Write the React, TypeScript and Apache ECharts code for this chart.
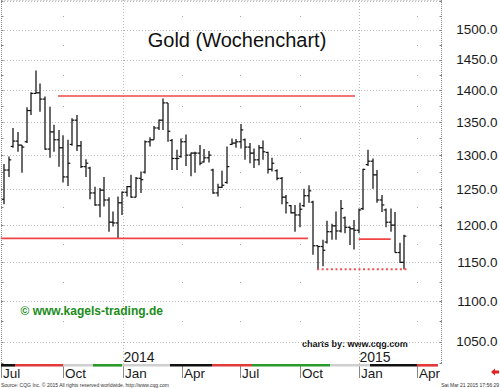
import React, { useEffect, useRef } from "react";
import * as echarts from "echarts";

// ---------- data (weekly OHLC, first bar = week of 2013-07-05) ----------
const opens = [
  1236, 1278, 1313, 1321, 1315, 1320, 1368, 1395, 1396, 1386,
  1309, 1335, 1323, 1311, 1268, 1316, 1353, 1314, 1283, 1281,
  1245, 1228, 1249, 1235, 1204, 1203, 1231, 1246, 1254, 1239,
  1266, 1275, 1320, 1323, 1341, 1353, 1380, 1322, 1295, 1298,
  1320, 1300, 1303, 1303, 1290, 1296, 1278, 1245, 1253, 1260,
  1316, 1318, 1320, 1323, 1312, 1303, 1293, 1311, 1304, 1279,
  1277, 1266, 1239, 1227, 1217, 1214, 1227, 1241, 1232, 1172,
  1171, 1177, 1191, 1199, 1192, 1210, 1197, 1195, 1193, 1223,
  1286, 1291, 1271, 1235, 1221, 1204, 1200, 1163, 1150,
];
const highs = [
  1287, 1298, 1341, 1335, 1315, 1373, 1397, 1432, 1411, 1390,
  1374, 1346, 1338, 1330, 1323, 1356, 1361, 1321, 1294, 1283,
  1254, 1252, 1268, 1239, 1219, 1240, 1247, 1255, 1271, 1268,
  1276, 1322, 1327, 1344, 1354, 1387, 1380, 1324, 1308, 1325,
  1331, 1304, 1305, 1315, 1309, 1306, 1280, 1258, 1277, 1313,
  1325, 1324, 1347, 1325, 1318, 1310, 1315, 1322, 1305, 1296,
  1279, 1268, 1242, 1228, 1228, 1231, 1251, 1256, 1234, 1172,
  1180, 1206, 1202, 1219, 1235, 1212, 1198, 1207, 1223, 1280,
  1308, 1295, 1278, 1242, 1223, 1223, 1218, 1176, 1187,
];
const lows = [
  1229, 1268, 1311, 1305, 1274, 1318, 1361, 1395, 1366, 1308,
  1296, 1305, 1283, 1260, 1255, 1314, 1306, 1281, 1268, 1236,
  1227, 1211, 1226, 1191, 1198, 1182, 1214, 1240, 1238, 1239,
  1245, 1273, 1313, 1323, 1338, 1338, 1320, 1278, 1278, 1296,
  1284, 1269, 1274, 1285, 1289, 1289, 1244, 1240, 1252, 1258,
  1315, 1311, 1310, 1293, 1288, 1281, 1285, 1293, 1273, 1276,
  1263, 1229, 1216, 1216, 1191, 1197, 1225, 1231, 1160, 1141,
  1145, 1175, 1180, 1180, 1190, 1189, 1173, 1167, 1189, 1221,
  1284, 1251, 1231, 1218, 1197, 1191, 1163, 1149, 1141,
];
const closes = [
  1278, 1293, 1321, 1315, 1312, 1368, 1395, 1396, 1386, 1309,
  1335, 1323, 1311, 1268, 1288, 1353, 1314, 1283, 1288, 1245,
  1228, 1249, 1235, 1204, 1203, 1231, 1246, 1254, 1239, 1266,
  1264, 1320, 1323, 1341, 1353, 1380, 1336, 1295, 1295, 1320,
  1300, 1303, 1303, 1288, 1296, 1300, 1245, 1253, 1256, 1283,
  1318, 1320, 1338, 1312, 1303, 1293, 1311, 1305, 1279, 1288,
  1266, 1239, 1231, 1217, 1214, 1222, 1241, 1248, 1172, 1171,
  1166, 1191, 1199, 1192, 1223, 1197, 1195, 1193, 1221, 1279,
  1291, 1271, 1235, 1228, 1204, 1200, 1163, 1150, 1185,
];

// price axis (log scale) tick values
const priceGridLevels = [1050, 1100, 1150, 1200, 1250, 1300, 1350, 1400, 1450, 1500, 1550];
const priceLabels = [1050, 1100, 1150, 1200, 1250, 1300, 1350, 1400, 1450, 1500];
const priceMidLevels = [1075, 1125, 1175, 1225, 1275, 1325, 1375, 1425, 1475, 1525];
const edgeTickLevels = [
  1025, 1050, 1075, 1100, 1125, 1150, 1175, 1200, 1225, 1250, 1275,
  1300, 1325, 1350, 1375, 1400, 1425, 1450, 1475, 1500, 1525, 1550,
];

// time axis (bar index units) quarter ticks & years
const quarterNames = ["Jul", "Oct", "Jan", "Apr", "Jul", "Oct", "Jan", "Apr"];
const quarterPos = [-0.6, 13.0, 26.2, 39.05, 51.9, 65.05, 78.1, 90.7];
const yearNames = ["2014", "2015"];
const yearPos = [26.2, 78.1];

// support / resistance lines (bar index from, to, price)
const levelFrom = [11.87, -0.66, 77.96, 68.8];
const levelTo = [77.14, 66.8, 84.99, 88.8];
const levelValue = [1391, 1182, 1181, 1141];
const levelDotted = [false, false, false, true];

// contract strip under the plot (bar index from, to, colour)
const stripFrom = [-0.66, 2.42, 12.97, 19.56, 25.93, 36.48, 45.71, 54.51, 71.65, 80.44, 90.77];
const stripTo = [2.42, 12.97, 19.56, 25.93, 36.48, 45.71, 54.51, 71.65, 80.44, 90.77, 95.38];
const stripColor = [
  "#111111", "#e03a3a", "#cfcfcf", "#2a9a2a", "#cfcfcf", "#111111",
  "#e03a3a", "#2a9a2a", "#cfcfcf", "#111111", "#e03a3a",
];

const X_MIN = -0.66;
const X_MAX = 96.26;
const Y_MIN = 1023.8;
const Y_MAX = 1552.3;

const FONT = '"Liberation Sans", Arial, Helvetica, sans-serif';

function txt(text: string, x: number, y: number, font: string, fill: string, align = "left", valign = "middle") {
  return {
    type: "text",
    x,
    y,
    silent: true,
    style: {
      text,
      font,
      fill,
      align,
      verticalAlign: valign,
      textAlign: align,
      textVerticalAlign: valign,
    },
  };
}

export default function App() {
  const ref = useRef<HTMLDivElement>(null);

  useEffect(() => {
    if (!ref.current) return;
    const chart = echarts.init(ref.current, undefined, { renderer: "svg" });

    const ohlcData = highs.map((h, i) => [i, opens[i], closes[i], lows[i], h]);

    const levelSeries = levelValue.map((v, k) => ({
      type: "line",
      z: 4,
      silent: true,
      symbol: "none",
      animation: false,
      data: [
        [levelFrom[k], v],
        [levelTo[k], v],
      ],
      lineStyle: {
        color: levelDotted[k] ? "#f05050" : "#f04444",
        width: levelDotted[k] ? 2 : 1.6,
        type: levelDotted[k] ? [2, 2.6] : "solid",
      },
    }));

    const option: any = {
      animation: false,
      backgroundColor: "#ffffff",
      grid: { left: 1, right: 58, top: 0, bottom: 24, show: false },
      xAxis: { type: "value", min: X_MIN, max: X_MAX, show: false },
      yAxis: { type: "log", logBase: 10, min: Y_MIN, max: Y_MAX, show: false },
      graphic: [
        txt("Gold (Wochenchart)", 237, 40, `normal 20px ${FONT}`, "#111111", "center"),
        txt("\u00a9 www.kagels-trading.de", 20.5, 311, `bold 12px ${FONT}`, "#1a8c1a"),
        txt("charts by: www.cqg.com", 302, 344, `bold 9px ${FONT}`, "#111111"),
        txt(
          "Source: CQG Inc. \u00a9 2015 All rights reserved worldwide. http://www.cqg.com",
          1,
          384.5,
          `normal 5px ${FONT}`,
          "#333333"
        ),
        txt("Sat Mar 21 2015 17:56:29", 499, 384.5, `normal 5px ${FONT}`, "#333333", "right"),
        {
          type: "polygon",
          silent: true,
          shape: {
            points: [
              [491, 372],
              [495, 368.5],
              [495, 370.6],
              [499, 370.6],
              [499, 373.4],
              [495, 373.4],
              [495, 375.5],
            ],
          },
          style: { fill: "#e02020" },
        },
      ],
      series: [
        // horizontal dotted grid lines
        {
          type: "custom",
          z: 1,
          silent: true,
          clip: false,
          data: priceGridLevels.map((v) => [X_MIN, v]),
          renderItem: (params: any, api: any) => {
            const v = priceGridLevels[params.dataIndex];
            const a = api.coord([X_MIN, v]);
            const b = api.coord([X_MAX, v]);
            const y = Math.round(a[1]) + 0.5;
            return {
              type: "line",
              shape: { x1: a[0], y1: y, x2: b[0], y2: y },
              style: { stroke: "#bcbcbc", lineWidth: 1, lineDash: [1, 2] },
            };
          },
        },
        // frame + edge ticks
        {
          type: "custom",
          z: 1,
          silent: true,
          clip: false,
          data: edgeTickLevels.map((v) => [X_MIN, v]),
          renderItem: (params: any, api: any) => {
            const v = edgeTickLevels[params.dataIndex];
            const l = api.coord([X_MIN, v]);
            const r = api.coord([X_MAX, v]);
            const y = Math.round(l[1]) + 0.5;
            const children: any[] = [
              { type: "line", shape: { x1: l[0], y1: y, x2: l[0] + 2.5, y2: y }, style: { stroke: "#8a8a8a", lineWidth: 1 } },
              { type: "line", shape: { x1: r[0] - 2.5, y1: y, x2: r[0], y2: y }, style: { stroke: "#8a8a8a", lineWidth: 1 } },
            ];
            if (params.dataIndex === 0) {
              const tl = api.coord([X_MIN, Y_MAX]);
              const bl = api.coord([X_MIN, Y_MIN]);
              const tr = api.coord([X_MAX, Y_MAX]);
              const br = api.coord([X_MAX, Y_MIN]);
              const xl = Math.round(tl[0]) + 0.5;
              const xr = Math.round(tr[0]) - 0.5;
              children.push(
                { type: "line", shape: { x1: xl, y1: tl[1], x2: xl, y2: bl[1] }, style: { stroke: "#8c8c8c", lineWidth: 1, lineDash: [1, 1] } },
                { type: "line", shape: { x1: xr, y1: tr[1], x2: xr, y2: br[1] }, style: { stroke: "#8c8c8c", lineWidth: 1, lineDash: [1, 1] } },
                { type: "line", shape: { x1: xl, y1: tl[1] + 0.5, x2: xr, y2: tr[1] + 0.5 }, style: { stroke: "#b0b0b0", lineWidth: 1, lineDash: [1, 2] } }
              );
            }
            return { type: "group", children };
          },
        },
        // quarter ticks, labels, vertical grid
        {
          type: "custom",
          z: 1,
          silent: true,
          clip: false,
          data: quarterPos.map((p) => [p, Y_MIN]),
          renderItem: (params: any, api: any) => {
            const k = params.dataIndex;
            const p = quarterPos[k];
            const b = api.coord([p, Y_MIN]);
            const t = api.coord([p, Y_MAX]);
            const x = Math.round(b[0]) + 0.5;
            const children: any[] = [
              { type: "line", shape: { x1: x, y1: b[1], x2: x, y2: b[1] + 14 }, style: { stroke: "#8a8a8a", lineWidth: 1 } },
              txt(quarterNames[k], x + 1.5, b[1] + 9.5, `normal 13.5px ${FONT}`, "#1a1a1a"),
            ];
            if (quarterNames[k] === "Jan") {
              children.push({
                type: "line",
                shape: { x1: x, y1: t[1], x2: x, y2: b[1] },
                style: { stroke: "#bcbcbc", lineWidth: 1, lineDash: [1, 2] },
              });
            } else if (k > 0) {
              priceMidLevels.forEach((m) => {
                const q = api.coord([p, m]);
                children.push({
                  type: "rect",
                  shape: { x: x - 0.5, y: Math.round(q[1]), width: 1, height: 1 },
                  style: { fill: "#a8a8a8" },
                });
              });
            }
            return { type: "group", children };
          },
        },
        // year labels
        {
          type: "custom",
          z: 2,
          silent: true,
          clip: false,
          data: yearPos.map((p) => [p, Y_MIN]),
          renderItem: (params: any, api: any) => {
            const k = params.dataIndex;
            const b = api.coord([yearPos[k], Y_MIN]);
            return txt(yearNames[k], Math.round(b[0]) + 0.5, b[1] - 7.5, `normal 14px ${FONT}`, "#1a1a1a");
          },
        },
        // contract strip
        {
          type: "custom",
          z: 2,
          silent: true,
          clip: false,
          data: stripFrom.map((f, k) => [f, stripTo[k]]),
          renderItem: (params: any, api: any) => {
            const k = params.dataIndex;
            const a = api.coord([stripFrom[k], Y_MIN]);
            const b = api.coord([stripTo[k], Y_MIN]);
            return {
              type: "rect",
              shape: { x: a[0], y: a[1], width: b[0] - a[0], height: 2.6 },
              style: { fill: stripColor[k] },
            };
          },
        },
        // price labels on the right
        {
          type: "custom",
          z: 2,
          silent: true,
          clip: false,
          data: priceLabels.map((v) => [X_MAX, v]),
          renderItem: (params: any, api: any) => {
            const v = priceLabels[params.dataIndex];
            const p = api.coord([X_MAX, v]);
            return txt(v.toFixed(1), p[0] + 55.5, p[1], `normal 13.5px ${FONT}`, "#1a1a1a", "right");
          },
        },
        // OHLC bars
        {
          type: "custom",
          z: 3,
          silent: true,
          clip: true,
          data: ohlcData,
          encode: { x: 0, y: [1, 2, 3, 4] },
          renderItem: (params: any, api: any) => {
            const i = api.value(0);
            const h = api.coord([i, api.value(4)]);
            const l = api.coord([i, api.value(3)]);
            const o = api.coord([i, api.value(1)]);
            const c = api.coord([i, api.value(2)]);
            const x = Math.round(h[0]);
            return {
              type: "group",
              children: [
                { type: "line", shape: { x1: x, y1: h[1], x2: x, y2: l[1] }, style: { stroke: "#5a5a5a", lineWidth: 1.8 } },
                { type: "line", shape: { x1: x - 2.3, y1: o[1], x2: x, y2: o[1] }, style: { stroke: "#111111", lineWidth: 1.2 } },
                { type: "line", shape: { x1: x, y1: c[1], x2: x + 2.3, y2: c[1] }, style: { stroke: "#111111", lineWidth: 1.2 } },
              ],
            };
          },
        },
        ...levelSeries,
      ],
    };

    chart.setOption(option);
    return () => chart.dispose();
  }, []);

  return (
    <div
      ref={ref}
      style={{ position: "fixed", left: 0, top: 0, width: 500, height: 388, background: "#fff" }}
    />
  );
}
